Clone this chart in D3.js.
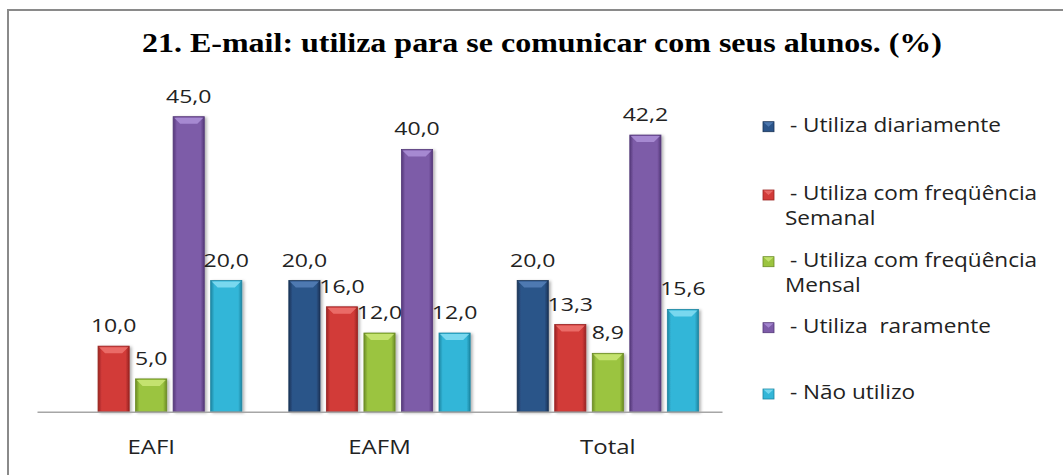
<!DOCTYPE html>
<html>
<head>
<meta charset="utf-8">
<script src="https://cdn.jsdelivr.net/npm/d3@7/dist/d3.min.js"></script>
<style>
  html, body { margin: 0; padding: 0; background: #fff; }
  svg text { white-space: pre; }
</style>
</head>
<body>
<svg id="chart" width="1063" height="475"></svg>
<script>
// chart data
const title = "21. E-mail: utiliza para se comunicar com seus alunos. (%)";
const categories = ["EAFI", "EAFM", "Total"];
const seriesNames = [
  ["- Utiliza diariamente"],
  ["- Utiliza com freqüência", "Semanal"],
  ["- Utiliza com freqüência", "Mensal"],
  ["- Utiliza  raramente"],
  ["- Não utilizo"]
];
const diariamente = [0, 20, 20];
const semanal = [10, 16, 13.3];
const mensal = [5, 12, 8.9];
const raramente = [45, 40, 42.2];
const naoUtilizo = [20, 12, 15.6];
const seriesValues = [diariamente, semanal, mensal, raramente, naoUtilizo];

// base / dark / light shades for the bevelled bars
const palette = [
  { base: "#2b5489", dark: "#1a3457", light: "#5580b8" },
  { base: "#d23b39", dark: "#9a2422", light: "#ee7470" },
  { base: "#9bc43f", dark: "#6b8b25", light: "#cbe878" },
  { base: "#7d5ba8", dark: "#543879", light: "#ad90d8" },
  { base: "#33b6d8", dark: "#1d86a2", light: "#86def3" }
];

const svg = d3.select("#chart");
const defs = svg.append("defs");

// horizontal gradient per series, dark edges and lighter middle
palette.forEach((c, i) => {
  const g = defs.append("linearGradient").attr("id", "grad" + i)
    .attr("x1", "0%").attr("x2", "100%").attr("y1", "0%").attr("y2", "0%");
  g.append("stop").attr("offset", "0%").attr("stop-color", c.dark);
  g.append("stop").attr("offset", "12%").attr("stop-color", c.base);
  g.append("stop").attr("offset", "50%").attr("stop-color", c.base);
  g.append("stop").attr("offset", "88%").attr("stop-color", c.base);
  g.append("stop").attr("offset", "100%").attr("stop-color", c.dark);
});

const shadow = defs.append("filter").attr("id", "shadow")
  .attr("x", "-30%").attr("y", "-10%").attr("width", "160%").attr("height", "130%");
shadow.append("feDropShadow").attr("dx", 2).attr("dy", 1)
  .attr("stdDeviation", 1.8).attr("flood-color", "#000").attr("flood-opacity", 0.3);

// frame (only left and top edges are visible in the picture)
svg.append("rect")
  .attr("x", 8).attr("y", 10).attr("width", 1200).attr("height", 600)
  .attr("fill", "none").attr("stroke", "#8a8a8a").attr("stroke-width", 2);

// title
svg.append("text")
  .attr("x", 142).attr("y", 52)
  .attr("textLength", 800).attr("lengthAdjust", "spacingAndGlyphs")
  .attr("font-family", "'Liberation Serif', 'Times New Roman', serif")
  .attr("font-weight", "bold").attr("font-size", 28).attr("fill", "#000")
  .text(title);

// scales
const x0 = d3.scaleBand().domain(categories).range([37, 722]).padding(0);
const x1 = d3.scaleBand().domain(d3.range(seriesNames.length))
  .range([23.5, x0.bandwidth() - 23.5]).paddingInner(0.17).paddingOuter(0);
const y = d3.scaleLinear().domain([0, 50]).range([411.7, 83.9]);

const fmt = v => d3.format(".1f")(v).replace(".", ",");

// bars
const groups = svg.append("g").selectAll("g")
  .data(categories)
  .join("g")
  .attr("transform", d => `translate(${x0(d)},0)`);

const bars = groups.selectAll("g.bar")
  .data((cat, ci) => seriesValues.map((vals, si) => ({ si, v: vals[ci] })))
  .join("g").attr("class", "bar")
  .filter(d => d.v > 0);

bars.append("rect")
  .attr("x", d => x1(d.si)).attr("y", d => y(d.v))
  .attr("width", x1.bandwidth()).attr("height", d => y(0) - y(d.v))
  .attr("fill", d => `url(#grad${d.si})`)
  .attr("stroke", d => palette[d.si].dark).attr("stroke-width", 0.8)
  .attr("filter", "url(#shadow)");

// top bevel
bars.append("polygon")
  .attr("points", d => {
    const bx = x1(d.si), by = y(d.v), w = x1.bandwidth(), h = 7;
    return [[bx + 1, by + 1], [bx + w - 1, by + 1], [bx + w - h, by + h], [bx + h, by + h]]
      .map(p => p.join(",")).join(" ");
  })
  .attr("fill", d => palette[d.si].light).attr("opacity", 0.85);

// value labels
bars.append("text")
  .attr("transform", d => `translate(${x1(d.si) + x1.bandwidth() / 2},${y(d.v) - 14}) scale(1.28,1)`)
  .attr("text-anchor", "middle")
  .attr("font-family", "'Open Sans', sans-serif").attr("font-size", 18)
  .attr("fill", "#222")
  .text(d => fmt(d.v));

// baseline axis
const xAxis = svg.append("g").attr("transform", `translate(0,${y(0)})`)
  .call(d3.axisBottom(x0).tickSize(0).tickPadding(0));
xAxis.select(".domain").attr("stroke", "#a6a6a6").attr("stroke-width", 1.5);
xAxis.selectAll(".tick text").remove();
xAxis.selectAll(".tick").append("text")
  .attr("transform", `translate(${0},${454 - y(0)}) scale(1.2,1)`)
  .attr("text-anchor", "middle")
  .attr("font-family", "'Open Sans', sans-serif").attr("font-size", 20)
  .attr("fill", "#222")
  .text(d => d);

// legend
const legendRows = [131.7, 200, 266.7, 332.7, 399];
const legend = svg.append("g").selectAll("g")
  .data(seriesNames)
  .join("g")
  .attr("transform", (d, i) => `translate(0,${legendRows[i]})`);

legend.append("rect")
  .attr("x", 763).attr("y", -10).attr("width", 11).attr("height", 10)
  .attr("fill", (d, i) => palette[i].base).attr("stroke", (d, i) => palette[i].dark)
  .attr("stroke-width", 0.8);
legend.append("polygon")
  .attr("points", "763.5,-9.5 773.5,-9.5 768.5,-5")
  .attr("fill", (d, i) => palette[i].light).attr("opacity", 0.8);

legend.each(function (lines) {
  const g = d3.select(this);
  lines.forEach((line, li) => {
    g.append("text")
      .attr("transform", `translate(${li === 0 ? 790 : 785},${li * 25}) scale(1.1,1)`)
      .attr("font-family", "'Open Sans', sans-serif").attr("font-size", 20.5)
      .attr("fill", "#222")
      .text(line);
  });
});
</script>
</body>
</html>
